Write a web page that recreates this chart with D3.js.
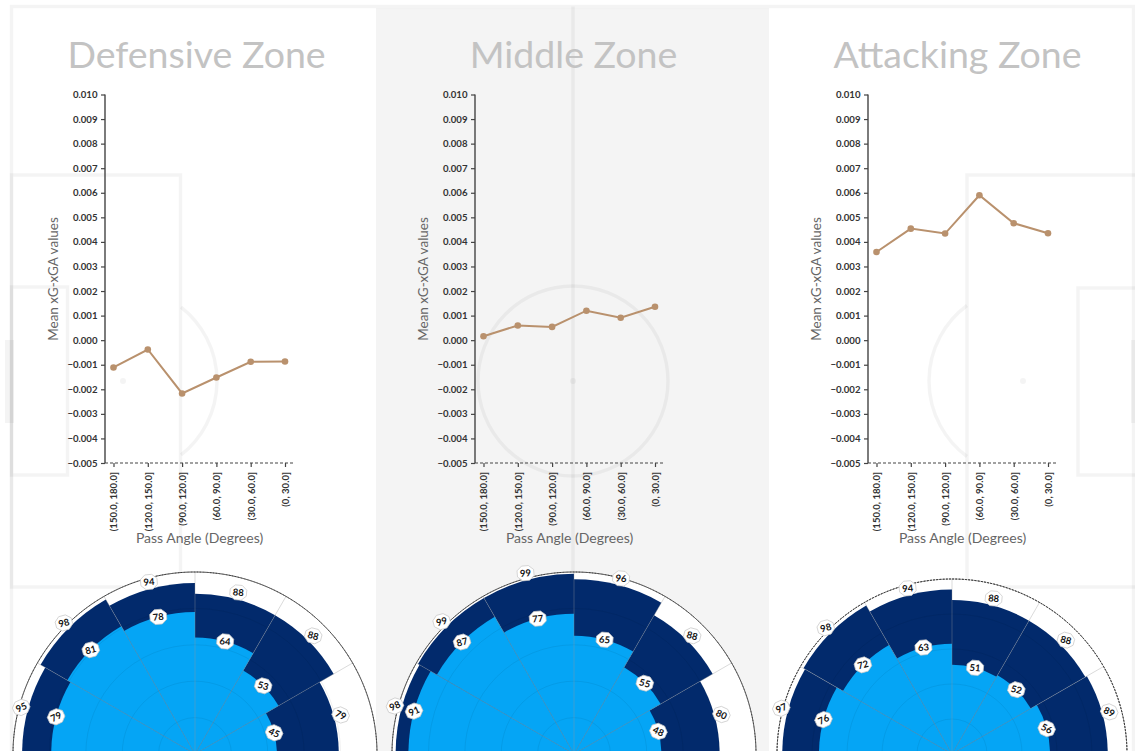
<!DOCTYPE html>
<html><head><meta charset="utf-8">
<script src="https://cdn.jsdelivr.net/npm/d3@7"></script>
<style>body{margin:0;background:#fff;} svg{display:block;}</style>
</head><body>
<svg id="chart" width="1135" height="751"></svg>
<script>
// ---------- data ----------
const angleBins = ["(150.0, 180.0]","(120.0, 150.0]","(90.0, 120.0]","(60.0, 90.0]","(30.0, 60.0]","(0, 30.0]"];
const zoneTitles = ["Defensive Zone","Middle Zone","Attacking Zone"];
const defensiveXg = [-0.00111,-0.00038,-0.00217,-0.00152,-0.00088,-0.00087];
const middleXg = [0.00016,0.00060,0.00054,0.00120,0.00091,0.00136];
const attackingXg = [0.00359,0.00454,0.00434,0.00590,0.00476,0.00435];
const yTicks = [-0.005,-0.004,-0.003,-0.002,-0.001,0,0.001,0.002,0.003,0.004,0.005,0.006,0.007,0.008,0.009,0.010];
const defensiveOuter = [95,98,94,88,88,79];
const defensiveInner = [79,81,78,64,53,45];
const middleOuter = [98,99,99,96,88,80];
const middleInner = [91,87,77,65,55,48];
const attackingOuter = [97,98,94,88,88,89];
const attackingInner = [76,72,63,51,52,56];
const radialGrid = [20,40,60,80];

// ---------- layout ----------
const svg = d3.select("#chart");
const lineColor = "#b9916d", navy = "#022a6c", lightBlue = "#05a5f5";
const pitchStroke = "rgba(0,0,0,0.045)";

// pitch background
const bg = svg.append("g");
bg.append("rect").attr("x",376).attr("y",8).attr("width",393).attr("height",760).attr("fill","#f4f4f4");
const pl = bg.append("g").attr("fill","none").attr("stroke",pitchStroke).attr("stroke-width",3.5);
pl.append("rect").attr("x",11.5).attr("y",6.5).attr("width",1122).attr("height",752);
pl.append("line").attr("x1",573).attr("x2",573).attr("y1",6.5).attr("y2",760);
pl.append("circle").attr("cx",573).attr("cy",381).attr("r",95);
pl.append("rect").attr("x",11.5).attr("y",175).attr("width",169).attr("height",412);
pl.append("rect").attr("x",11.5).attr("y",287).attr("width",56).attr("height",188);
pl.append("rect").attr("x",967).attr("y",175).attr("width",170).attr("height",412);
pl.append("rect").attr("x",1078).attr("y",288).attr("width",60).attr("height",187);
const arcA = Math.acos((181-123)/94);
pl.append("path").attr("d", d3.arc()({innerRadius:94,outerRadius:94,startAngle:Math.PI/2-arcA,endAngle:Math.PI/2+arcA}))
  .attr("transform","translate(123,381)");
const arcB = Math.acos((1023-967)/94);
pl.append("path").attr("d", d3.arc()({innerRadius:94,outerRadius:94,startAngle:-Math.PI/2-arcB,endAngle:-Math.PI/2+arcB}))
  .attr("transform","translate(1023,381)");
const pf = bg.append("g").attr("fill",pitchStroke);
pf.append("rect").attr("x",5).attr("y",340).attr("width",9).attr("height",83);
pf.append("rect").attr("x",1131).attr("y",340).attr("width",9).attr("height",83);
pf.append("circle").attr("cx",123).attr("cy",381).attr("r",3);
pf.append("circle").attr("cx",573).attr("cy",381).attr("r",3);
pf.append("circle").attr("cx",1023).attr("cy",381).attr("r",3);

// ---------- panels ----------
const panels = [
  {title:zoneTitles[0], xg:defensiveXg, outer:defensiveOuter, inner:defensiveInner, axisX:105, titleX:196.5, cx:195, R:182},
  {title:zoneTitles[1], xg:middleXg, outer:middleOuter, inner:middleInner, axisX:475, titleX:573.5, cx:574, R:182},
  {title:zoneTitles[2], xg:attackingXg, outer:attackingOuter, inner:attackingInner, axisX:868, titleX:957.5, cx:952, R:175}
];
const font = "Lato, 'Open Sans', sans-serif";

panels.forEach(p => {
  const g = svg.append("g");
  g.append("text").attr("x",p.titleX).attr("y",68).attr("text-anchor","middle")
    .attr("font-family",font).attr("font-weight",400).attr("font-size",37.5).attr("fill","#c3c3c3").text(p.title);

  const y = d3.scaleLinear().domain([-0.005,0.010]).range([463,94.5]);
  const x = d3.scalePoint().domain(angleBins).range([p.axisX+8.5, p.axisX+180]);

  const ya = g.append("g").attr("transform",`translate(${p.axisX},0)`)
    .call(d3.axisLeft(y).tickValues(yTicks).tickFormat(d3.format(".3f")).tickSize(4).tickPadding(3.5));
  ya.select(".domain").attr("stroke","#444").attr("stroke-width",1.4).attr("d",`M0,94.5V463`);
  ya.selectAll(".tick line").attr("stroke","#444").attr("stroke-width",1.2);
  ya.selectAll(".tick text").attr("font-family",font).attr("font-weight",700).attr("font-size",9.6).attr("fill","#333");

  const xa = g.append("g").attr("transform",`translate(0,463)`)
    .call(d3.axisBottom(x).tickSize(4).tickPadding(4));
  xa.select(".domain").remove();
  xa.append("line").attr("x1",p.axisX).attr("x2",p.axisX+188).attr("y1",0).attr("y2",0)
    .attr("stroke","#444").attr("stroke-width",1.1).attr("stroke-dasharray","3,2");
  xa.selectAll(".tick line").attr("stroke","#444").attr("stroke-width",1.2);
  xa.selectAll(".tick text").attr("font-family",font).attr("font-weight",700).attr("font-size",9.6).attr("fill","#333")
    .attr("text-anchor","end").attr("transform","rotate(-90)").attr("x",-9).attr("y",0).attr("dy","0.35em");

  g.append("text").attr("transform",`translate(${p.axisX-52},279) rotate(-90)`).attr("text-anchor","middle")
    .attr("dy","0.35em").attr("font-family",font).attr("font-size",13.5).attr("fill","#666").text("Mean xG-xGA values");
  g.append("text").attr("x",p.axisX+94.5).attr("y",543).attr("text-anchor","middle")
    .attr("font-family",font).attr("font-size",14).attr("fill","#666").text("Pass Angle (Degrees)");

  const line = d3.line().x((d,i)=>x(angleBins[i])).y(d=>y(d));
  g.append("path").datum(p.xg).attr("d",line).attr("fill","none").attr("stroke",lineColor).attr("stroke-width",2);
  g.selectAll("circle.pt").data(p.xg).join("circle").attr("class","pt")
    .attr("cx",(d,i)=>x(angleBins[i])).attr("cy",d=>y(d)).attr("r",3.3).attr("fill",lineColor);

  // polar
  const cy = 754;
  const pg = svg.append("g").attr("transform",`translate(${p.cx},${cy})`);
  const r = d3.scaleLinear().domain([0,100]).range([0,p.R]);
  const ang = d3.scaleBand().domain(angleBins).range([-Math.PI/2, Math.PI/2]).padding(0);
  pg.append("path").attr("d",d3.arc()({innerRadius:0,outerRadius:p.R,startAngle:-Math.PI/2,endAngle:Math.PI/2})).attr("fill","#fff");
  const barArc = d3.arc().innerRadius(0);
  pg.selectAll("path.outer").data(p.outer).join("path").attr("class","outer")
    .attr("d",(d,i)=>barArc({outerRadius:r(d),startAngle:ang(angleBins[i]),endAngle:ang(angleBins[i])+ang.bandwidth()}))
    .attr("fill",navy);
  pg.selectAll("path.inner").data(p.inner).join("path").attr("class","inner")
    .attr("d",(d,i)=>barArc({outerRadius:r(d),startAngle:ang(angleBins[i]),endAngle:ang(angleBins[i])+ang.bandwidth()}))
    .attr("fill",lightBlue);
  pg.selectAll("circle.grid").data(radialGrid).join("circle").attr("class","grid")
    .attr("r",d=>r(d)).attr("fill","none").attr("stroke","rgba(0,0,0,0.08)").attr("stroke-width",0.8);
  const spokes = d3.range(7).map(i=>-Math.PI/2 + i*Math.PI/6);
  pg.selectAll("line.spoke").data(spokes).join("line").attr("class","spoke")
    .attr("x2",a=>p.R*Math.sin(a)).attr("y2",a=>-p.R*Math.cos(a))
    .attr("stroke","rgba(150,150,150,0.45)").attr("stroke-width",0.8);
  pg.append("path").attr("d",d3.arc()({innerRadius:p.R,outerRadius:p.R,startAngle:-Math.PI/2,endAngle:Math.PI/2}))
    .attr("fill","none").attr("stroke","#333").attr("stroke-width",0.9).attr("stroke-dasharray","2,1.2");

  const labels = [];
  p.outer.forEach((v,i)=>labels.push({v, rr:r(v)+7, a:ang(angleBins[i])+ang.bandwidth()/2}));
  p.inner.forEach((v,i)=>labels.push({v, rr:r(v), a:ang(angleBins[i])+ang.bandwidth()/2}));
  const hex = d3.range(8).map(k=>{const t=Math.PI/8+k*Math.PI/4; return [9*Math.cos(t),8*Math.sin(t)];});
  const lg = pg.selectAll("g.lab").data(labels).join("g").attr("class","lab")
    .attr("transform",d=>`translate(${d.rr*Math.sin(d.a)},${-d.rr*Math.cos(d.a)}) rotate(${d.a*180/Math.PI/3})`);
  lg.append("path").attr("d","M"+hex.join("L")+"Z").attr("fill","#fff").attr("stroke","#c8c8c8").attr("stroke-width",0.7);
  lg.append("text").attr("text-anchor","middle").attr("dy","0.35em").attr("font-family",font).attr("font-weight",700)
    .attr("font-size",9.5).attr("fill","#111").text(d=>d.v);
});
</script>
</body></html>
